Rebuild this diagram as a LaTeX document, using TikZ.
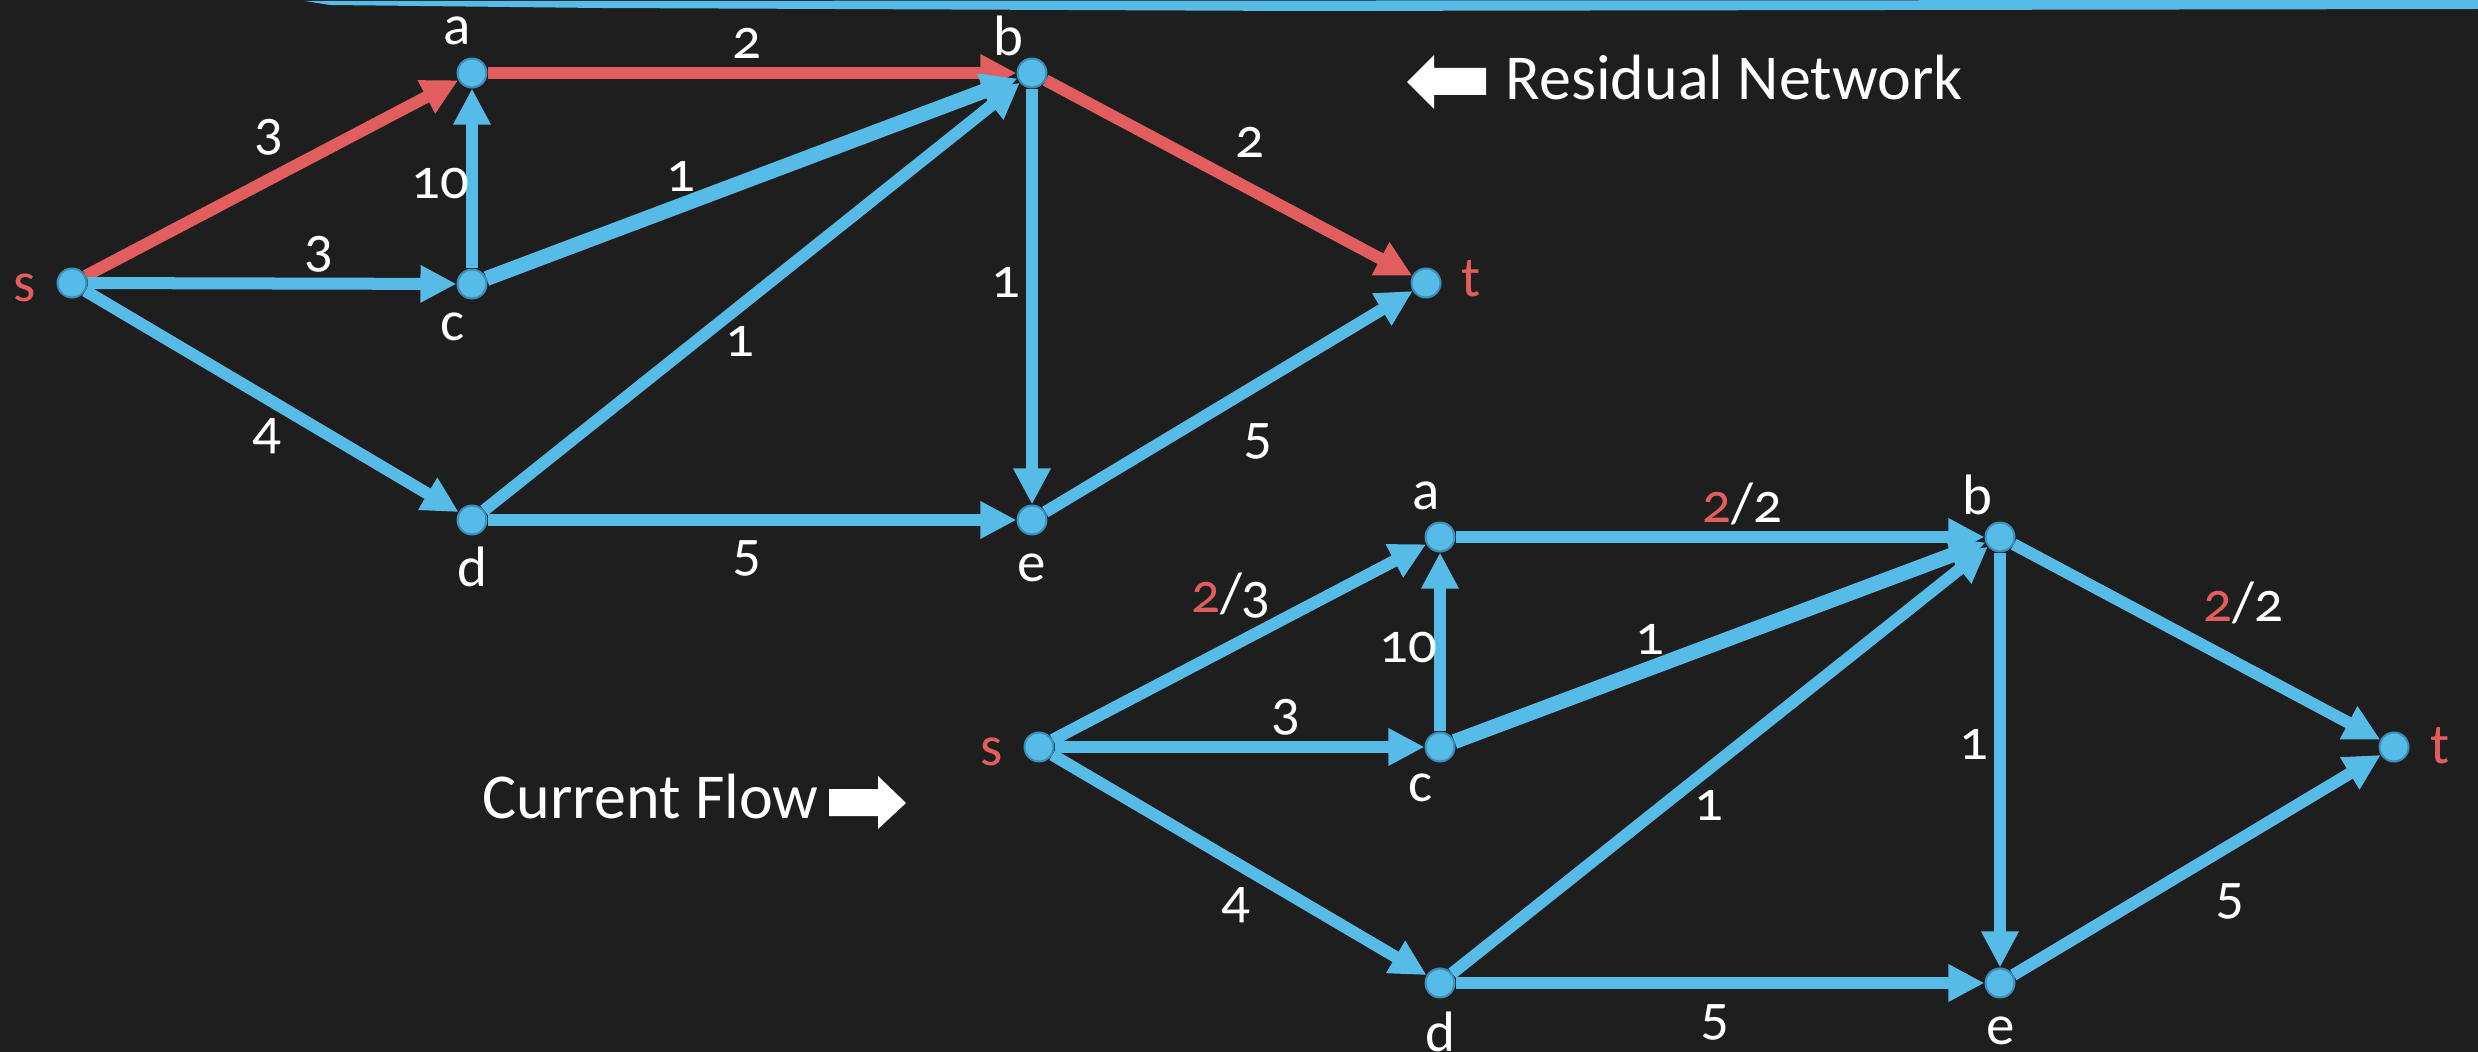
\documentclass[tikz,border=0pt]{standalone}
\usepackage{fontspec}
\setmainfont{Carlito}[Numbers=OldStyle]
\usetikzlibrary{arrows.meta,positioning}
\pgfdeclarelayer{board}
\pgfdeclarelayer{bg}
\pgfsetlayers{board,bg,main}
\usepackage{xcolor}
\definecolor{chalk}{RGB}{30,30,30}
\definecolor{vblue}{RGB}{86,187,230}
\definecolor{vrim}{RGB}{58,140,185}
\definecolor{vred}{RGB}{226,94,94}

\begin{document}
\begin{tikzpicture}[
  x=0.01cm, y=-0.01cm,
  vtx/.style={circle, fill=vblue, draw=vrim, line width=0.02cm, minimum size=0.29cm, inner sep=0pt},
  vname/.style={text=white, inner sep=0pt, font=\fontsize{16.2}{18}\selectfont},
  num/.style={text=white, inner sep=0pt, font=\fontsize{16.2}{18}\selectfont},
  caption/.style={text=white, inner sep=0pt, anchor=base west, font=\fontsize{18.2}{20}\selectfont},
  link/.style={draw=vblue, line width=0.12cm, -{Triangle[length=0.36cm, width=0.35cm]}},
  hot/.style={link, draw=vred},
  wide/.style={line width=0.15cm}
]
\useasboundingbox (0,0) rectangle (2478,1052);
\begin{pgfonlayer}{board}
\fill[chalk] (0,0) rectangle (2478,1052);
\fill[vblue] (305,1) -- (2478,0) -- (2478,9) -- (1300,11) -- (600,8) -- (330,5) -- cycle;
\end{pgfonlayer}

% residual network
\node[vtx] (s1) at (72,283) {};
\node[vtx] (a1) at (472,73) {};
\node[vtx] (b1) at (1032,73) {};
\node[vtx] (c1) at (472,284) {};
\node[vtx] (d1) at (472,520) {};
\node[vtx] (e1) at (1032,520) {};
\node[vtx] (t1) at (1426,283) {};

\node[vname, text=vred] (ns1) at (25,288) {s};
\node[vname] (na1) at (457,31) {a};
\node[vname] (nb1) at (1008,36) {b};
\node[vname] (nc1) at (453,327) {c};
\node[vname] (nd1) at (472,567) {d};
\node[vname] (ne1) at (1032,568) {e};
\node[vname, text=vred] (nt1) at (1471,279) {t};

\begin{pgfonlayer}{bg}
\draw[hot] (s1) -- (a1);
\draw[hot] (a1) -- (b1);
\draw[hot] (b1) -- (t1);
\draw[link] (s1) -- (c1);
\draw[link] (s1) -- (d1);
\draw[link] (c1) -- (a1);
\draw[link, wide] (c1) -- (b1);
\draw[link] (d1) -- (b1);
\draw[link] (b1) -- (e1);
\draw[link] (d1) -- (e1);
\draw[link] (e1) -- (t1);
\end{pgfonlayer}

\node[num] (sa1) at (269,137) {3};
\node[num] (ab1) at (747,43) {2};
\node[num] (ca1) at (440,184) {10};
\node[num] (sc1) at (319,254) {3};
\node[num] (cb1) at (681,176) {1};
\node[num] (db1) at (740,341) {1};
\node[num] (be1) at (1006,282) {1};
\node[num] (bt1) at (1250,142) {2};
\node[num] (sd1) at (267,436) {4};
\node[num] (de1) at (747,558) {5};
\node[num] (et1) at (1258,441) {5};

\fill[white] (1407,82) -- (1434,55) -- (1434,68) -- (1486,68) -- (1486,95) -- (1434,95) -- (1434,109) -- cycle;
\node[caption] (resid) at (1505,100) {Residual Network};

% current flow
\node[vtx] (s2) at (1039,747) {};
\node[vtx] (a2) at (1440,537) {};
\node[vtx] (b2) at (2000,537) {};
\node[vtx] (c2) at (1440,747) {};
\node[vtx] (d2) at (1440,983) {};
\node[vtx] (e2) at (2000,983) {};
\node[vtx] (t2) at (2394,747) {};

\node[vname, text=vred] (ns2) at (992,752) {s};
\node[vname] (na2) at (1426,496) {a};
\node[vname] (nb2) at (1977,495) {b};
\node[vname] (nc2) at (1421,788) {c};
\node[vname] (nd2) at (1440,1032) {d};
\node[vname] (ne2) at (2001,1031) {e};
\node[vname, text=vred] (nt2) at (2440,746) {t};

\begin{pgfonlayer}{bg}
\draw[link] (s2) -- (a2);
\draw[link] (a2) -- (b2);
\draw[link] (b2) -- (t2);
\draw[link] (s2) -- (c2);
\draw[link] (s2) -- (d2);
\draw[link] (c2) -- (a2);
\draw[link, wide] (c2) -- (b2);
\draw[link] (d2) -- (b2);
\draw[link] (b2) -- (e2);
\draw[link] (d2) -- (e2);
\draw[link] (e2) -- (t2);
\end{pgfonlayer}

\node[num] (sa2) at (1231,596) {\textcolor{vred}{2}/3};
\node[num] (ab2) at (1742,504) {\textcolor{vred}{2}/2};
\node[num] (ca2) at (1408,648) {10};
\node[num] (sc2) at (1286,717) {3};
\node[num] (cb2) at (1650,639) {1};
\node[num] (db2) at (1709,805) {1};
\node[num] (be2) at (1974,744) {1};
\node[num] (bt2) at (2243,603) {\textcolor{vred}{2}/2};
\node[num] (sd2) at (1236,905) {4};
\node[num] (de2) at (1715,1022) {5};
\node[num] (et2) at (2230,901) {5};

\node[caption] (flow) at (482,818) {Current Flow};
\fill[white] (829,789) -- (878,789) -- (878,776) -- (906,803) -- (878,829) -- (878,816) -- (829,816) -- cycle;
\end{tikzpicture}
\end{document}
